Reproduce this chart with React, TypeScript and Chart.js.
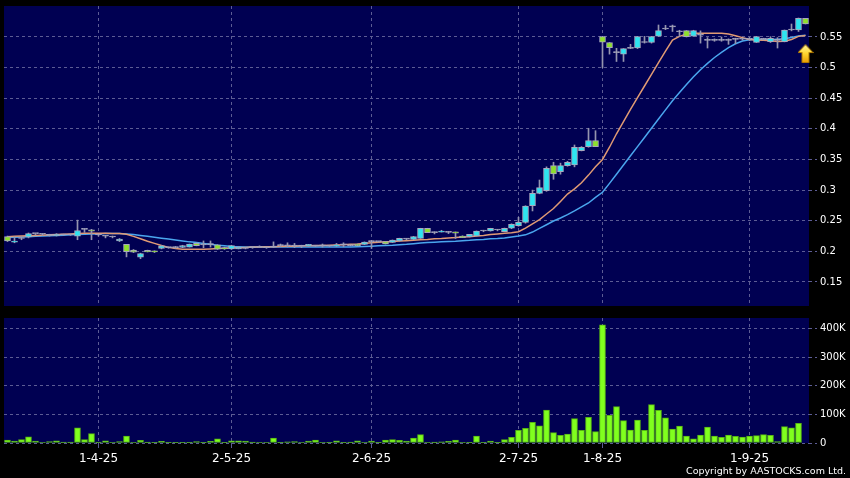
import React, { useEffect, useRef } from 'react';
import { Chart, registerables } from 'chart.js';
Chart.register(...registerables);

const dates = [
  '13-3-25','14-3-25','17-3-25','18-3-25','19-3-25','20-3-25','21-3-25','24-3-25','25-3-25','26-3-25','27-3-25','28-3-25','31-3-25',
  '1-4-25','2-4-25','3-4-25','7-4-25','8-4-25','9-4-25','10-4-25','11-4-25','14-4-25','15-4-25','16-4-25','17-4-25','22-4-25','23-4-25','24-4-25','25-4-25','28-4-25','29-4-25','30-4-25',
  '2-5-25','6-5-25','7-5-25','8-5-25','9-5-25','12-5-25','13-5-25','14-5-25','15-5-25','16-5-25','19-5-25','20-5-25','21-5-25','22-5-25','23-5-25','26-5-25','27-5-25','28-5-25','29-5-25','30-5-25',
  '2-6-25','3-6-25','4-6-25','5-6-25','6-6-25','9-6-25','10-6-25','11-6-25','12-6-25','13-6-25','16-6-25','17-6-25','18-6-25','19-6-25','20-6-25','23-6-25','24-6-25','25-6-25','26-6-25','27-6-25','30-6-25',
  '2-7-25','3-7-25','4-7-25','7-7-25','8-7-25','9-7-25','10-7-25','11-7-25','14-7-25','15-7-25','16-7-25','17-7-25',
  '1-8-25','4-8-25','5-8-25','6-8-25','7-8-25','8-8-25','11-8-25','12-8-25','13-8-25','14-8-25','15-8-25','18-8-25','19-8-25','20-8-25','21-8-25','22-8-25','25-8-25','26-8-25','27-8-25','28-8-25','29-8-25',
  '1-9-25','2-9-25','3-9-25','4-9-25','5-9-25','8-9-25','9-9-25','10-9-25','11-9-25',
];

const monthTicks = ['1-4-25', '2-5-25', '2-6-25', '2-7-25', '1-8-25', '1-9-25'];

const opens = [
  0.224,0.215,0.221,0.2235,0.229,0.228,0.226,0.2255,0.227,0.227,
  0.225,0.236,0.235,0.227,0.225,0.2235,0.217,0.2115,0.202,0.1905,
  0.2015,0.201,0.205,0.206,0.206,0.2065,0.207,0.213,0.2105,0.211,
  0.2105,0.206,0.204,0.204,0.205,0.206,0.2065,0.206,0.207,0.2095,
  0.209,0.2085,0.2085,0.2088,0.2085,0.209,0.2085,0.2085,0.2105,0.2095,
  0.2115,0.2115,0.2158,0.2158,0.2158,0.2148,0.2169,0.220,0.2197,0.2213,
  0.2377,0.2306,0.2315,0.2311,0.2317,0.2251,0.2240,0.2251,0.2333,0.2333,
  0.2349,0.2323,0.2377,0.242,0.2474,0.2746,0.2948,0.299,0.340,0.330,
  0.340,0.341,0.3645,0.371,0.381,0.5505,0.541,0.5245,0.522,0.5315,
  0.532,0.541,0.541,0.5515,0.563,0.5665,0.5585,0.5605,0.5515,0.553,
  0.5445,0.5445,0.5445,0.5445,0.546,0.5465,0.546,0.5413,0.546,0.5423,
  0.5445,0.5423,0.5614,0.5614,0.5805,
];
const highs = [
  0.225,0.224,0.224,0.230,0.229,0.229,0.228,0.229,0.228,0.228,
  0.251,0.237,0.236,0.228,0.226,0.225,0.221,0.2115,0.203,0.197,
  0.202,0.201,0.210,0.207,0.208,0.210,0.212,0.214,0.217,0.217,
  0.211,0.207,0.210,0.208,0.206,0.208,0.209,0.207,0.2155,0.212,
  0.214,0.213,0.210,0.2115,0.209,0.212,0.2095,0.213,0.214,0.210,
  0.212,0.2155,0.218,0.216,0.216,0.2186,0.2215,0.221,0.2245,0.2377,
  0.2377,0.232,0.2344,0.2325,0.2317,0.2255,0.2278,0.2333,0.2345,0.2377,
  0.236,0.238,0.245,0.2556,0.2745,0.300,0.3165,0.338,0.3455,0.344,
  0.347,0.3737,0.371,0.401,0.397,0.551,0.541,0.5315,0.531,0.538,
  0.551,0.551,0.551,0.5696,0.569,0.5695,0.561,0.5605,0.561,0.560,
  0.549,0.547,0.550,0.547,0.548,0.547,0.549,0.551,0.548,0.5505,
  0.549,0.5614,0.5712,0.581,0.5805,
];
const lows = [
  0.216,0.214,0.219,0.222,0.227,0.226,0.225,0.225,0.226,0.226,
  0.219,0.231,0.219,0.225,0.222,0.222,0.216,0.191,0.198,0.188,
  0.199,0.198,0.204,0.205,0.205,0.206,0.207,0.209,0.206,0.207,
  0.203,0.203,0.203,0.204,0.204,0.205,0.206,0.205,0.206,0.208,
  0.207,0.206,0.206,0.208,0.208,0.207,0.208,0.208,0.2075,0.209,
  0.209,0.211,0.2049,0.215,0.212,0.2145,0.2165,0.219,0.219,0.2213,
  0.2306,0.2285,0.2315,0.229,0.221,0.2224,0.2235,0.225,0.232,0.233,
  0.2335,0.232,0.237,0.241,0.246,0.266,0.294,0.298,0.3177,0.326,
  0.339,0.338,0.364,0.370,0.371,0.500,0.522,0.510,0.510,0.531,
  0.531,0.540,0.540,0.551,0.562,0.559,0.551,0.550,0.551,0.540,
  0.532,0.543,0.543,0.538,0.539,0.545,0.544,0.541,0.545,0.541,
  0.532,0.542,0.560,0.559,0.5712,
];
const closes = [
  0.217,0.216,0.221,0.229,0.229,0.228,0.226,0.228,0.227,0.227,
  0.234,0.236,0.233,0.227,0.225,0.2235,0.220,0.1995,0.1985,0.1965,
  0.199,0.199,0.209,0.206,0.206,0.2095,0.212,0.2095,0.2105,0.211,
  0.2035,0.204,0.2095,0.207,0.205,0.206,0.2065,0.206,0.207,0.2095,
  0.209,0.2085,0.2085,0.2115,0.2085,0.209,0.2085,0.2105,0.2105,0.2095,
  0.2095,0.2153,0.2158,0.2158,0.212,0.2186,0.2213,0.220,0.224,0.2377,
  0.2306,0.2306,0.2322,0.2311,0.2297,0.2224,0.2278,0.2333,0.2333,0.2377,
  0.2349,0.2377,0.2442,0.2474,0.2741,0.2948,0.304,0.3356,0.3265,0.340,
  0.3455,0.370,0.370,0.381,0.371,0.5415,0.5325,0.5245,0.531,0.5315,
  0.5505,0.541,0.5505,0.5605,0.563,0.5665,0.5585,0.5505,0.5605,0.553,
  0.5445,0.5445,0.5445,0.5445,0.546,0.5465,0.546,0.5505,0.546,0.5479,
  0.5445,0.5614,0.5614,0.5805,0.5712,
];

const maShort = [
  0.224,0.2245,0.225,0.2255,0.226,0.2265,0.227,0.2275,0.228,0.2285,
  0.229,0.2295,0.2295,0.2295,0.2295,0.229,0.229,0.228,0.2245,0.2205,
  0.2165,0.213,0.2095,0.2065,0.2045,0.2035,0.2035,0.2035,0.2035,0.204,
  0.2045,0.205,0.2055,0.206,0.2065,0.207,0.207,0.2075,0.2075,0.208,
  0.2085,0.2085,0.209,0.209,0.2095,0.2095,0.210,0.2105,0.211,0.2115,
  0.212,0.213,0.214,0.215,0.2155,0.216,0.217,0.2175,0.218,0.219,
  0.2195,0.2205,0.221,0.222,0.2225,0.2235,0.224,0.225,0.226,0.2275,
  0.2285,0.2295,0.2305,0.232,0.238,0.245,0.252,0.261,0.270,0.2815,
  0.2935,0.302,0.312,0.3245,0.338,0.350,0.370,0.392,0.412,0.432,
  0.451,0.470,0.489,0.508,0.527,0.545,0.551,0.555,0.556,0.556,
  0.556,0.556,0.556,0.555,0.552,0.549,0.546,0.545,0.5445,0.544,
  0.5425,0.543,0.546,0.551,0.5525,
];
const maLong = [
  0.2225,0.223,0.2235,0.224,0.2245,0.225,0.2255,0.226,0.2265,0.227,
  0.2275,0.228,0.2285,0.2285,0.229,0.229,0.229,0.2285,0.2275,0.226,
  0.2245,0.223,0.2215,0.220,0.2185,0.217,0.2155,0.2145,0.213,0.2115,
  0.210,0.209,0.208,0.2075,0.207,0.207,0.207,0.207,0.207,0.207,
  0.207,0.207,0.207,0.207,0.207,0.207,0.207,0.207,0.207,0.2072,
  0.2075,0.208,0.2085,0.209,0.2095,0.210,0.211,0.2115,0.2125,0.2135,
  0.2145,0.215,0.2155,0.216,0.2165,0.2175,0.218,0.219,0.2195,0.2205,
  0.221,0.222,0.2235,0.225,0.227,0.2315,0.2375,0.2435,0.2495,0.2545,
  0.260,0.266,0.2725,0.279,0.288,0.2965,0.311,0.326,0.341,0.356,
  0.371,0.386,0.401,0.416,0.431,0.446,0.4595,0.4725,0.485,0.4965,
  0.507,0.5165,0.525,0.5325,0.539,0.5435,0.5455,0.546,0.546,0.546,
  0.5465,0.547,0.549,0.5515,0.553,
];

const volumes = [
  10000,7000,12000,22000,7000,2000,5000,8000,3000,3000,
  53000,12000,33000,3000,8000,2000,5000,24000,2000,9000,
  3000,1000,6000,1000,1000,1000,1000,5000,1000,6000,
  15000,1000,8000,8000,7000,3000,2000,2000,17000,1000,
  4000,5000,2000,7000,10000,2000,1000,8000,1000,3000,
  8000,2000,7000,1000,10000,12000,9000,7000,17000,29000,
  2000,3000,4000,6000,10000,2000,1000,24000,1000,7000,
  1000,12000,20000,44000,51000,72000,60000,115000,36000,27000,
  31000,85000,44000,90000,40000,413000,97000,127000,78000,45000,
  80000,44000,134000,114000,88000,49000,59000,24000,15000,28000,
  56000,24000,20000,28000,23000,21000,24000,26000,29000,27000,
  5000,57000,53000,69000,null,
];

const priceTicks = [0.15, 0.2, 0.25, 0.3, 0.35, 0.4, 0.45, 0.5, 0.55];
const volumeTicks = [0, 100000, 200000, 300000, 400000];
const volumeTickLabels = ['0', '100K', '200K', '300K', '400K'];
const signalIndex = 114;
const signalPrice = 0.523;

const FONT = 'DejaVu Sans';
const GRID = '#5c5c94';
const NAVY = '#000052';
const UP = '#2ee4f0';
const DOWN = '#8ee02c';
const FLAT = '#a4a4bc';

const plotBg = {
  id: 'plotBg',
  beforeDraw(chart: any) {
    const { ctx, chartArea: a } = chart;
    ctx.save();
    ctx.fillStyle = NAVY;
    ctx.fillRect(a.left, a.top, a.right - a.left, a.bottom - a.top);
    ctx.restore();
  },
};

function makeArrow() {
  const c = document.createElement('canvas');
  c.width = 16;
  c.height = 19;
  const g = c.getContext('2d')!;
  const grad = g.createLinearGradient(0, 0, 0, 19);
  grad.addColorStop(0, '#fff8a8');
  grad.addColorStop(0.5, '#ffd630');
  grad.addColorStop(1, '#e89a00');
  g.beginPath();
  g.moveTo(8, 0.5);
  g.lineTo(15.5, 8.5);
  g.lineTo(11.5, 8.5);
  g.lineTo(11.5, 18.5);
  g.lineTo(4.5, 18.5);
  g.lineTo(4.5, 8.5);
  g.lineTo(0.5, 8.5);
  g.closePath();
  g.fillStyle = grad;
  g.fill();
  g.strokeStyle = '#b07800';
  g.lineWidth = 1;
  g.stroke();
  return c;
}

const monthIdx = monthTicks.map((m) => dates.indexOf(m));

function zeroPad(s: any) {
  s.paddingTop = 0;
  s.paddingBottom = 0;
  s.paddingLeft = 0;
  s.paddingRight = 0;
}

function xScale(showLabels: boolean) {
  return {
    type: 'category' as const,
    offset: true,
    afterBuildTicks: (s: any) => {
      s.ticks = monthIdx.map((v) => ({ value: v }));
    },
    afterFit: (s: any) => {
      s.height = showLabels ? 35 : 0;
      zeroPad(s);
    },
    ticks: {
      display: showLabels,
      autoSkip: false,
      maxRotation: 0,
      color: '#ffffff',
      font: { family: FONT, size: 12 },
      padding: 4,
      callback: (v: any) => dates[v],
    },
    grid: {
      offset: false,
      color: GRID,
      drawTicks: showLabels,
      tickLength: 5,
      tickColor: GRID,
    },
    border: { display: false, dash: [3, 3] },
  };
}

function yScale(min: number, max: number, tickValues: number[], fmt: (v: number) => string) {
  return {
    position: 'right',
    min,
    max,
    afterBuildTicks: (s: any) => {
      s.ticks = tickValues.map((v) => ({ value: v }));
    },
    afterFit: (s: any) => {
      s.width = 41;
      zeroPad(s);
    },
    ticks: {
      color: '#ffffff',
      font: { family: FONT, size: 10 },
      padding: 3,
      callback: (v: any) => fmt(Number(v)),
    },
    grid: { color: GRID, tickLength: 8, tickColor: GRID, tickBorderDash: [3, 3] },
    border: { display: false, dash: [3, 3] },
  } as any;
}

export default function App() {
  const topRef = useRef<HTMLCanvasElement>(null);
  const botRef = useRef<HTMLCanvasElement>(null);

  useEffect(() => {
    const bodyColors = opens.map((o, i) => (closes[i] > o ? UP : closes[i] < o ? DOWN : FLAT));
    const arrowData = dates.map((_, i) => (i === signalIndex ? signalPrice : null));
    const top = new Chart(topRef.current!, {
      type: 'bar',
      data: {
        labels: dates,
        datasets: [
          {
            type: 'line',
            data: maLong,
            borderColor: '#4aa6ee',
            borderWidth: 1.5,
            pointRadius: 0,
            tension: 0,
            order: 5,
          } as any,
          {
            type: 'line',
            data: maShort,
            borderColor: '#e09a74',
            borderWidth: 1.5,
            pointRadius: 0,
            tension: 0,
            order: 4,
          } as any,
          {
            type: 'bar',
            data: lows.map((l, i) => [l, highs[i]]),
            backgroundColor: '#9494ae',
            barThickness: 1,
            grouped: false,
            order: 3,
          } as any,
          {
            type: 'bar',
            data: opens.map((o, i) => [o, closes[i]]),
            backgroundColor: bodyColors,
            borderColor: '#a8a8be',
            borderWidth: 1,
            borderSkipped: false,
            barThickness: 6,
            minBarLength: 1,
            grouped: false,
            order: 2,
          } as any,
          {
            type: 'line',
            data: arrowData,
            showLine: false,
            pointStyle: makeArrow(),
            pointRadius: 8,
            order: 1,
          } as any,
        ],
      },
      options: {
        responsive: false,
        maintainAspectRatio: false,
        animation: false,
        layout: { autoPadding: false, padding: { left: 4, top: 6, bottom: 6, right: 0 } },
        plugins: { legend: { display: false }, tooltip: { enabled: false } },
        scales: {
          x: xScale(false) as any,
          y: yScale(0.1108, 0.6006, priceTicks, (v) => String(Math.round(v * 100) / 100)),
        },
      },
      plugins: [plotBg],
    });

    const bot = new Chart(botRef.current!, {
      type: 'bar',
      data: {
        labels: dates,
        datasets: [
          {
            data: volumes,
            backgroundColor: '#80ff1e',
            borderColor: '#58b414',
            borderWidth: 1,
            borderSkipped: false,
            barThickness: 6,
          } as any,
        ],
      },
      options: {
        responsive: false,
        maintainAspectRatio: false,
        animation: false,
        layout: { autoPadding: false, padding: { left: 4, top: 6, bottom: 0, right: 0 } },
        plugins: { legend: { display: false }, tooltip: { enabled: false } },
        scales: {
          x: xScale(true) as any,
          y: yScale(0, 437000, volumeTicks, (v) => volumeTickLabels[volumeTicks.indexOf(v)]),
        },
      },
      plugins: [plotBg],
    });

    return () => {
      top.destroy();
      bot.destroy();
    };
  }, []);

  return (
    <div
      style={{
        position: 'fixed',
        left: 0,
        top: 0,
        width: 850,
        height: 478,
        background: '#000',
        overflow: 'hidden',
      }}
    >
      <canvas
        ref={topRef}
        width={850}
        height={312}
        style={{ position: 'absolute', left: 0, top: 0, width: 850, height: 312 }}
      />
      <canvas
        ref={botRef}
        width={850}
        height={166}
        style={{ position: 'absolute', left: 0, top: 312, width: 850, height: 166 }}
      />
      <div
        style={{
          position: 'absolute',
          right: 4,
          top: 465,
          color: '#fff',
          fontFamily: FONT,
          fontSize: 9.5,
          lineHeight: '12px',
          whiteSpace: 'nowrap',
        }}
      >
        Copyright by AASTOCKS.com Ltd.
      </div>
    </div>
  );
}
